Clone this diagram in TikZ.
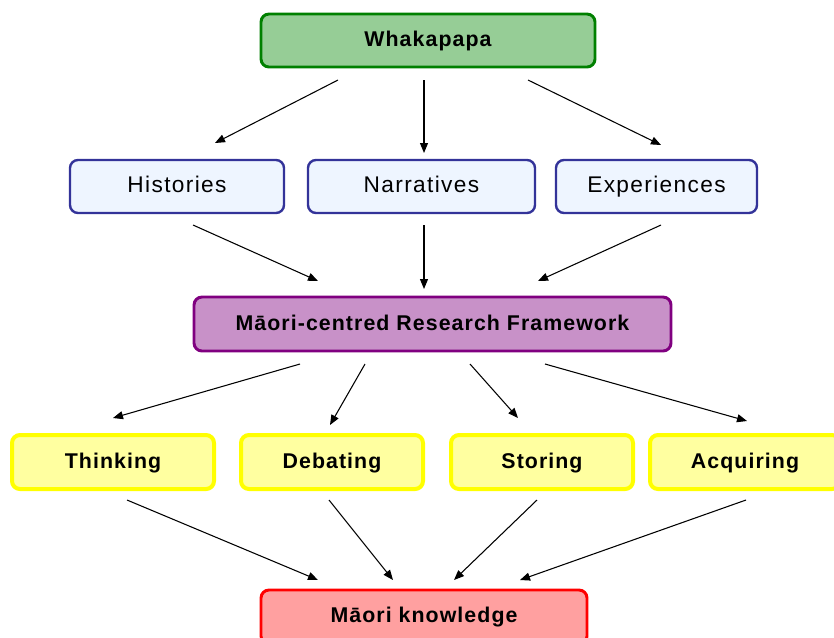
\documentclass[tikz,border=0pt]{standalone}
\usepackage{fontspec}
\setmainfont{Liberation Sans}
\newfontfamily\boxfont[LetterSpace=5]{Liberation Sans}
\newfontfamily\regfont[LetterSpace=6]{Liberation Sans}
\usetikzlibrary{arrows.meta}
\definecolor{gborder}{RGB}{0,128,0}
\definecolor{gfill}{RGB}{150,205,150}
\definecolor{bborder}{RGB}{51,51,153}
\definecolor{bfill}{RGB}{238,245,255}
\definecolor{pborder}{RGB}{128,0,128}
\definecolor{pfill}{RGB}{200,145,200}
\definecolor{yborder}{RGB}{255,255,0}
\definecolor{yfill}{RGB}{255,255,160}
\definecolor{rborder}{RGB}{255,0,0}
\definecolor{rfill}{RGB}{255,160,160}
\tikzset{
  boxbase/.style={rectangle, rounded corners=6pt, inner sep=0pt, outer sep=0pt,
    text height=1.0em, text depth=0.04em, line width=2.2pt,
    font=\boxfont\bfseries\fontsize{16}{18}\selectfont},
  greenbox/.style={boxbase, draw=gborder, fill=gfill},
  bluebox/.style={boxbase, draw=bborder, fill=bfill, line width=1.8pt,
    font=\regfont\fontsize{17}{19}\selectfont},
  purplebox/.style={boxbase, draw=pborder, fill=pfill},
  yellowbox/.style={boxbase, draw=yborder, fill=yfill, line width=3pt},
  redbox/.style={boxbase, draw=rborder, fill=rfill},
  conn/.style={draw=black, line width=0.8pt, -{Triangle[length=7.5pt,width=6pt]}}
}
\begin{document}
\begin{tikzpicture}[x=0.75pt,y=-0.75pt]
\useasboundingbox (0,0) rectangle (834,637);
\clip (0,0) rectangle (834,637);
\node[greenbox, minimum width=334*0.75pt, minimum height=53*0.75pt] (whaka) at (428,40.5) {Whakapapa};
\node[bluebox, minimum width=214*0.75pt, minimum height=53*0.75pt] (hist) at (177,186.5) {Histories};
\node[bluebox, minimum width=227*0.75pt, minimum height=53*0.75pt] (narr) at (421.5,186.5) {Narratives};
\node[bluebox, minimum width=201*0.75pt, minimum height=53*0.75pt] (exp) at (656.5,186.5) {Experiences};
\node[purplebox, minimum width=477*0.75pt, minimum height=54*0.75pt] (mcrf) at (432.5,324) {Māori-centred Research Framework};
\node[yellowbox, minimum width=202*0.75pt, minimum height=54*0.75pt] (think) at (113,462) {Thinking};
\node[yellowbox, minimum width=182*0.75pt, minimum height=54*0.75pt] (deb) at (332,462) {Debating};
\node[yellowbox, minimum width=182*0.75pt, minimum height=54*0.75pt] (stor) at (542,462) {Storing};
\node[yellowbox, minimum width=190*0.75pt, minimum height=54*0.75pt] (acq) at (745,462) {Acquiring};
\node[redbox, minimum width=326*0.75pt, minimum height=54*0.75pt] (mk) at (424,617) {\raisebox{1pt}{Māori knowledge}};
% arrow endpoints
\coordinate (w1) at (338,80);  \coordinate (h1) at (215,143);
\coordinate (w2) at (424,80);  \coordinate (n1) at (424,153);
\coordinate (w3) at (528,80);  \coordinate (e1) at (661,145);
\coordinate (h2) at (193,225); \coordinate (m1) at (318,281);
\coordinate (n2) at (424,225); \coordinate (m2) at (424,289);
\coordinate (e2) at (661,225); \coordinate (m3) at (538,281);
\coordinate (m4) at (300,364); \coordinate (t1) at (113,418);
\coordinate (m5) at (365,364); \coordinate (d1) at (330,425);
\coordinate (m6) at (470,364); \coordinate (s1) at (518,418);
\coordinate (m7) at (545,364); \coordinate (a1) at (747,421);
\coordinate (t2) at (127,500); \coordinate (k1) at (318,580);
\coordinate (d2) at (329,500); \coordinate (k2) at (393,580);
\coordinate (s2) at (537,500); \coordinate (k3) at (454,580);
\coordinate (a2) at (746,500); \coordinate (k4) at (520,580);
\draw[conn] (w1) -- (h1);
\draw[conn] (w2) -- (n1);
\draw[conn] (w3) -- (e1);
\draw[conn] (h2) -- (m1);
\draw[conn] (n2) -- (m2);
\draw[conn] (e2) -- (m3);
\draw[conn] (m4) -- (t1);
\draw[conn] (m5) -- (d1);
\draw[conn] (m6) -- (s1);
\draw[conn] (m7) -- (a1);
\draw[conn] (t2) -- (k1);
\draw[conn] (d2) -- (k2);
\draw[conn] (s2) -- (k3);
\draw[conn] (a2) -- (k4);
\end{tikzpicture}
\end{document}
